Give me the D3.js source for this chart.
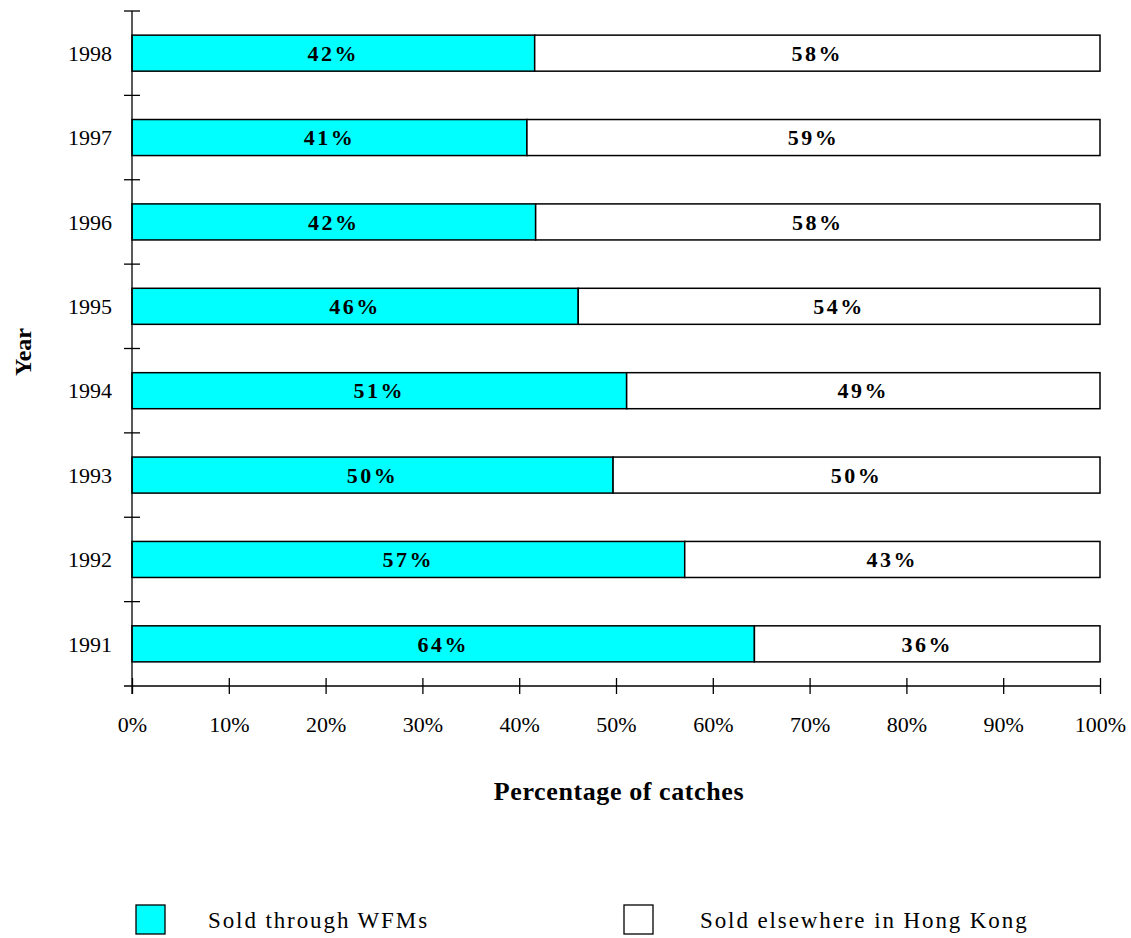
<!DOCTYPE html>
<html>
<head>
<meta charset="utf-8">
<script src="https://cdn.jsdelivr.net/npm/d3@7"></script>
<style>
  html, body { margin: 0; padding: 0; background: #fff; }
  svg { display: block; font-family: "Liberation Serif", "Times New Roman", serif; }
</style>
</head>
<body>
<svg id="chart" width="1131" height="938"></svg>
<script>
// Share of catches by outlet, per year (percent)
const years = ["1998", "1997", "1996", "1995", "1994", "1993", "1992", "1991"];
const soldThroughWFMs = [41.6, 40.8, 41.7, 46.1, 51.1, 49.7, 57.1, 64.3];
const soldElsewhere = [58.4, 59.2, 58.3, 53.9, 48.9, 50.3, 42.9, 35.7];
const xTicks = [0, 10, 20, 30, 40, 50, 60, 70, 80, 90, 100];
const seriesNames = ["Sold through WFMs", "Sold elsewhere in Hong Kong"];
const seriesColors = ["#00FFFF", "#FFFFFF"];

const rows = years.map((yr, i) => ({ year: yr, a: soldThroughWFMs[i], b: soldElsewhere[i] }));

const svg = d3.select("#chart");
const plotLeft = 132, plotRight = 1100, plotTop = 11, plotBottom = 686;

const x = d3.scaleLinear().domain([0, 100]).range([plotLeft, plotRight]);
const y = d3.scaleBand().domain(years).range([plotTop, plotBottom]).paddingInner(0.573).paddingOuter(0.286);

// Stacked segments with centred value labels
const g = svg.append("g");
rows.forEach(r => {
  g.append("rect")
    .attr("x", x(0)).attr("y", y(r.year))
    .attr("width", x(r.a) - x(0)).attr("height", y.bandwidth())
    .attr("fill", seriesColors[0]).attr("stroke", "#000").attr("stroke-width", 1.5);
  g.append("rect")
    .attr("x", x(r.a)).attr("y", y(r.year))
    .attr("width", x(r.a + r.b) - x(r.a)).attr("height", y.bandwidth())
    .attr("fill", seriesColors[1]).attr("stroke", "#000").attr("stroke-width", 1.5);

  const cy = y(r.year) + y.bandwidth() / 2;
  [[(x(0) + x(r.a)) / 2, r.a], [(x(r.a) + x(r.a + r.b)) / 2, r.b]].forEach(([cx, v]) => {
    g.append("text")
      .attr("x", cx).attr("y", cy).attr("dy", "0.35em")
      .attr("text-anchor", "middle").attr("font-weight", "bold").attr("font-size", 22)
      .attr("letter-spacing", "2.5px")
      .text(Math.round(v) + "%");
  });
});

// X axis with ticks crossing the baseline
const xAxis = svg.append("g").attr("transform", `translate(0,${plotBottom})`)
  .call(d3.axisBottom(x).tickValues(xTicks).tickSize(8).tickSizeOuter(0).tickPadding(22)
    .tickFormat(d => d + "%"));
xAxis.select(".domain").attr("d", `M${plotLeft - 8},0H${plotRight}`).attr("stroke", "#000").attr("stroke-width", 1.3);
xAxis.selectAll(".tick line").attr("y1", -8).attr("y2", 8).attr("stroke", "#000").attr("stroke-width", 1.3);
xAxis.selectAll(".tick text").attr("font-size", 22).attr("font-family", "Liberation Serif, serif").attr("fill", "#000");

// Y axis: category boundaries marked with ticks
const yAxisG = svg.append("g");
yAxisG.append("line").attr("x1", plotLeft).attr("x2", plotLeft).attr("y1", plotTop).attr("y2", plotBottom + 8)
  .attr("stroke", "#000").attr("stroke-width", 1.3);
const boundaries = d3.range(years.length).map(i => plotTop + i * (plotBottom - plotTop) / years.length);
yAxisG.selectAll("line.b").data(boundaries).join("line").attr("class", "b")
  .attr("x1", plotLeft - 8).attr("x2", plotLeft + 8).attr("y1", d => d).attr("y2", d => d)
  .attr("stroke", "#000").attr("stroke-width", 1.3);
yAxisG.selectAll("text").data(years).join("text")
  .attr("x", 112).attr("y", d => y(d) + y.bandwidth() / 2).attr("dy", "0.35em")
  .attr("text-anchor", "end").attr("font-size", 22).text(d => d);

// Axis titles
svg.append("text").attr("x", 619).attr("y", 800).attr("text-anchor", "middle")
  .attr("font-weight", "bold").attr("font-size", 26).attr("letter-spacing", "0.6px").text("Percentage of catches");
svg.append("text").attr("transform", "translate(31,352) rotate(-90)").attr("text-anchor", "middle")
  .attr("font-weight", "bold").attr("font-size", 24).text("Year");

// Legend
const legendPos = [{ bx: 136, tx: 208 }, { bx: 624, tx: 700 }];
seriesNames.forEach((name, i) => {
  svg.append("rect").attr("x", legendPos[i].bx).attr("y", 905).attr("width", 29).attr("height", 29)
    .attr("fill", seriesColors[i]).attr("stroke", "#000").attr("stroke-width", 1.3);
  svg.append("text").attr("x", legendPos[i].tx).attr("y", 928).attr("font-size", 23)
    .attr("letter-spacing", "1.9px").text(name);
});
</script>
</body>
</html>
